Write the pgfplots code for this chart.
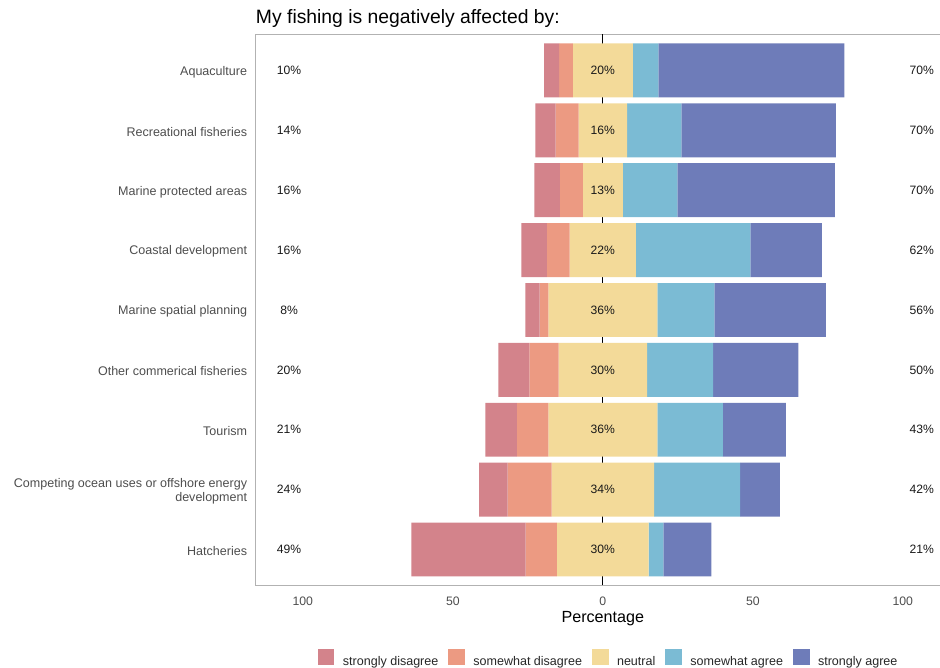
\documentclass[border=0pt]{standalone}
\usepackage{pgfplots}
\usepackage{pgfplotstable}
\pgfplotsset{compat=1.18}
\usepackage{fontspec}
\setmainfont{Liberation Sans}

\definecolor{cSD}{HTML}{D3838B}
\definecolor{csD}{HTML}{EC9A82}
\definecolor{cN}{HTML}{F3DA99}
\definecolor{cSA}{HTML}{7BBBD4}
\definecolor{cStA}{HTML}{6E7CB9}
\definecolor{labgray}{HTML}{4D4D4D}

\pgfplotsset{sqleg/.style={legend image code/.code={\fill[#1] (0pt,-2pt) rectangle (11.6pt,9.6pt);}}}

% off = left end of each bar
\pgfplotstableread{
pos off SD sD N SA StA
9 -19.6 5.0 4.6 20.0 8.5 62.0
8 -22.5 6.8 7.6 16.2 18.1 51.5
7 -22.85 8.5 7.7 13.3 18.2 52.5
6 -27.15 8.5 7.6 22.1 38.1 23.9
5 -25.85 4.8 2.9 36.3 19.0 37.2
4 -34.85 10.4 9.7 29.5 22.0 28.4
3 -39.15 10.5 10.5 36.3 21.9 21.0
2 -41.2 9.5 14.6 34.2 28.7 13.2
1 -63.8 38.1 10.4 30.6 4.9 16.0
}\likert

\pgfplotstableread{
pos lx left mx mid rx right
9 -104.6 10 0 20 106.3 70
8 -104.6 14 0 16 106.3 70
7 -104.6 16 0 13 106.3 70
6 -104.6 16 0 22 106.3 62
5 -104.6 8 0 36 106.3 56
4 -104.6 20 0 30 106.3 50
3 -104.6 21 0 36 106.3 43
2 -104.6 24 0 34 106.3 42
1 -104.6 49 0 30 106.3 21
}\pcts

\begin{document}
\begin{tikzpicture}
\begin{axis}[
  at={(191.8pt,61.9pt)}, anchor=south west,
  scale only axis, width=520.65pt, height=413.25pt,
  xbar stacked, stack negative=on previous, bar width=0.9,
  xmin=-115.7, xmax=115.7, ymin=0.4, ymax=9.6,
  axis line style={draw=black!30, line width=1pt},
  major tick length=0pt,
  xtick={-100,-50,0,50,100},
  xticklabels={100,50,0,50,100},
  ytick={1,2,3,4,5,6,7,8,9},
  yticklabels={Hatcheries,{Competing ocean uses or offshore energy\\development},Tourism,Other commerical fisheries,Marine spatial planning,Coastal development,Marine protected areas,Recreational fisheries,Aquaculture},
  yticklabel style={align=right, inner xsep=0pt, inner ysep=0pt, xshift=-6.3pt, yshift=-1.2pt, text=labgray, font=\fontsize{9.4}{10.6}\selectfont},
  xticklabel style={inner sep=0pt, yshift=-8.5pt, text=labgray, font=\fontsize{9.2}{11}\selectfont},
  extra x ticks={0}, extra x tick labels={},
  extra x tick style={grid=major, major grid style={black, line width=0.8pt}},
  title={My fishing is negatively affected by:},
  title style={at={(axis description cs:0,1)}, anchor=base west, yshift=2.4pt, inner sep=0pt, text=black, font=\fontsize{14.5}{17}\selectfont},
  xlabel={Percentage},
  xlabel style={at={(axis description cs:0.5,0)}, anchor=base, yshift=-27.5pt, inner sep=0pt, text=black, font=\fontsize{12.1}{14}\selectfont},
]
\addplot[draw=none, fill=none] table[x=off, y=pos] {\likert};
\addplot[draw=none, fill=cSD] table[x=SD, y=pos] {\likert};
\addplot[draw=none, fill=csD] table[x=sD, y=pos] {\likert};
\addplot[draw=none, fill=cN] table[x=N, y=pos] {\likert};
\addplot[draw=none, fill=cSA] table[x=SA, y=pos] {\likert};
\addplot[draw=none, fill=cStA] table[x=StA, y=pos] {\likert};
\end{axis}
\begin{axis}[
  at={(191.8pt,61.9pt)}, anchor=south west,
  scale only axis, width=520.65pt, height=413.25pt,
  xmin=-115.7, xmax=115.7, ymin=0.4, ymax=9.6,
  hide axis,
  legend style={at={(axis description cs:0.507,-0.1316)}, anchor=center, draw=none, fill=none,
    font=\fontsize{9.4}{11}\selectfont, text=black!85, nodes={inner sep=0pt},
    /tikz/every even column/.append style={column sep=7.5pt},
    /tikz/every odd column/.append style={column sep=6.75pt}},
  legend columns=5,
]
\addlegendimage{sqleg=cSD}
\addlegendentry{strongly disagree}
\addlegendimage{sqleg=csD}
\addlegendentry{somewhat disagree}
\addlegendimage{sqleg=cN}
\addlegendentry{neutral}
\addlegendimage{sqleg=cSA}
\addlegendentry{somewhat agree}
\addlegendimage{sqleg=cStA}
\addlegendentry{strongly agree}
\addplot[only marks, mark=none, forget plot, point meta=explicit symbolic,
  nodes near coords={\pgfplotspointmeta\%},
  nodes near coords style={anchor=center, inner sep=0pt, text=black!90, font=\fontsize{9.1}{11}\selectfont}]
  table[x=lx, y=pos, meta=left] {\pcts};
\addplot[only marks, mark=none, forget plot, point meta=explicit symbolic,
  nodes near coords={\pgfplotspointmeta\%},
  nodes near coords style={anchor=center, inner sep=0pt, text=black!90, font=\fontsize{9.1}{11}\selectfont}]
  table[x=mx, y=pos, meta=mid] {\pcts};
\addplot[only marks, mark=none, forget plot, point meta=explicit symbolic,
  nodes near coords={\pgfplotspointmeta\%},
  nodes near coords style={anchor=center, inner sep=0pt, text=black!90, font=\fontsize{9.1}{11}\selectfont}]
  table[x=rx, y=pos, meta=right] {\pcts};
\end{axis}
\pgfresetboundingbox
\path[use as bounding box] (0,0) rectangle (705pt,501pt);
\end{tikzpicture}
\end{document}
